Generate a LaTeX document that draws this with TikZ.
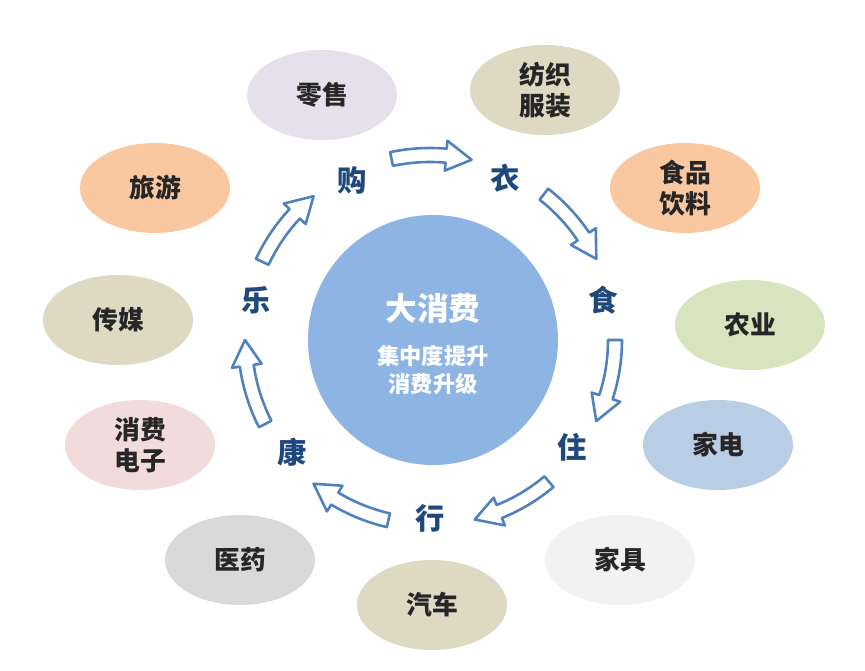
\documentclass[tikz,border=0pt]{standalone}
\usepackage{fontspec}
\setmainfont{Noto Sans CJK SC}
\usetikzlibrary{shapes.geometric}
\definecolor{lblue}{RGB}{31,73,125}
\definecolor{cfill}{RGB}{141,180,226}
\definecolor{arrowc}{RGB}{79,129,189}
\tikzset{
  bub/.style={ellipse,minimum width=150*0.03cm,minimum height=90*0.03cm,inner sep=0pt,align=center,font=\fontsize{22}{26}\selectfont\bfseries,text=black!85},
  lab/.style={text=lblue,font=\fontsize{25}{28}\selectfont\bfseries},
  barr/.style={draw=arrowc,line width=2.2pt,fill=white,line join=round}
}
\newcommand{\barrow}[2]{% tail angle, tip angle (clockwise)
  \draw[barr] (#1:192) arc[start angle=#1,end angle=#2+8,radius=192] -- (#2+8:200) -- (#2:185) -- (#2+8:170) -- (#2+8:178) arc[start angle=#2+8,end angle=#1,radius=178] -- cycle;}
\begin{document}
\begin{tikzpicture}[x=0.03cm,y=0.03cm]
\useasboundingbox[fill=white] (0,0) rectangle (865,671);
\begin{scope}[shift={(430,331)}]
\node[circle,fill=cfill,minimum size=250*0.03cm] (c) at (3,0) {};
\node[text=white,font=\fontsize{27}{30}\selectfont\bfseries] (t1) at (3,32) {大消费};
\node[text=white,font=\fontsize{19}{24}\selectfont\bfseries,align=center] (t2) at (3,-30) {集中度提升\\消费升级};
\node[lab] (gou) at (116:178) {购};
\node[lab] (yi) at (65:178) {衣};
\node[lab] (shi) at (13:178) {食};
\node[lab] (zhu) at (-37:178) {住};
\node[lab] (xing) at (-90:178) {行};
\node[lab] (kang) at (-141:178) {康};
\node[lab] (le) at (167:178) {乐};
\barrow{102}{77}
\barrow{52}{26}
\barrow{0}{-26}
\barrow{-50}{-76}
\barrow{-103}{-129}
\barrow{-153}{-180}
\barrow{155}{129}
\end{scope}
\node[bub,fill={rgb,255:red,230;green,224;blue,236}] (b1) at (322,576) {零售};
\node[bub,fill={rgb,255:red,221;green,217;blue,195}] (b2) at (545,581) {纺织\\服装};
\node[bub,fill={rgb,255:red,250;green,200;blue,160}] (b3) at (685,483) {食品\\饮料};
\node[bub,fill={rgb,255:red,215;green,228;blue,189}] (b4) at (750,346) {农业};
\node[bub,fill={rgb,255:red,185;green,205;blue,229}] (b5) at (718,226) {家电};
\node[bub,fill={rgb,255:red,242;green,242;blue,242}] (b6) at (620,111) {家具};
\node[bub,fill={rgb,255:red,221;green,217;blue,195}] (b7) at (432,66) {汽车};
\node[bub,fill={rgb,255:red,217;green,217;blue,217}] (b8) at (240,111) {医药};
\node[bub,fill={rgb,255:red,242;green,220;blue,219}] (b9) at (140,226) {消费\\电子};
\node[bub,fill={rgb,255:red,221;green,217;blue,195}] (b10) at (118,351) {传媒};
\node[bub,fill={rgb,255:red,250;green,200;blue,160}] (b11) at (155,483) {旅游};
\end{tikzpicture}
\end{document}
